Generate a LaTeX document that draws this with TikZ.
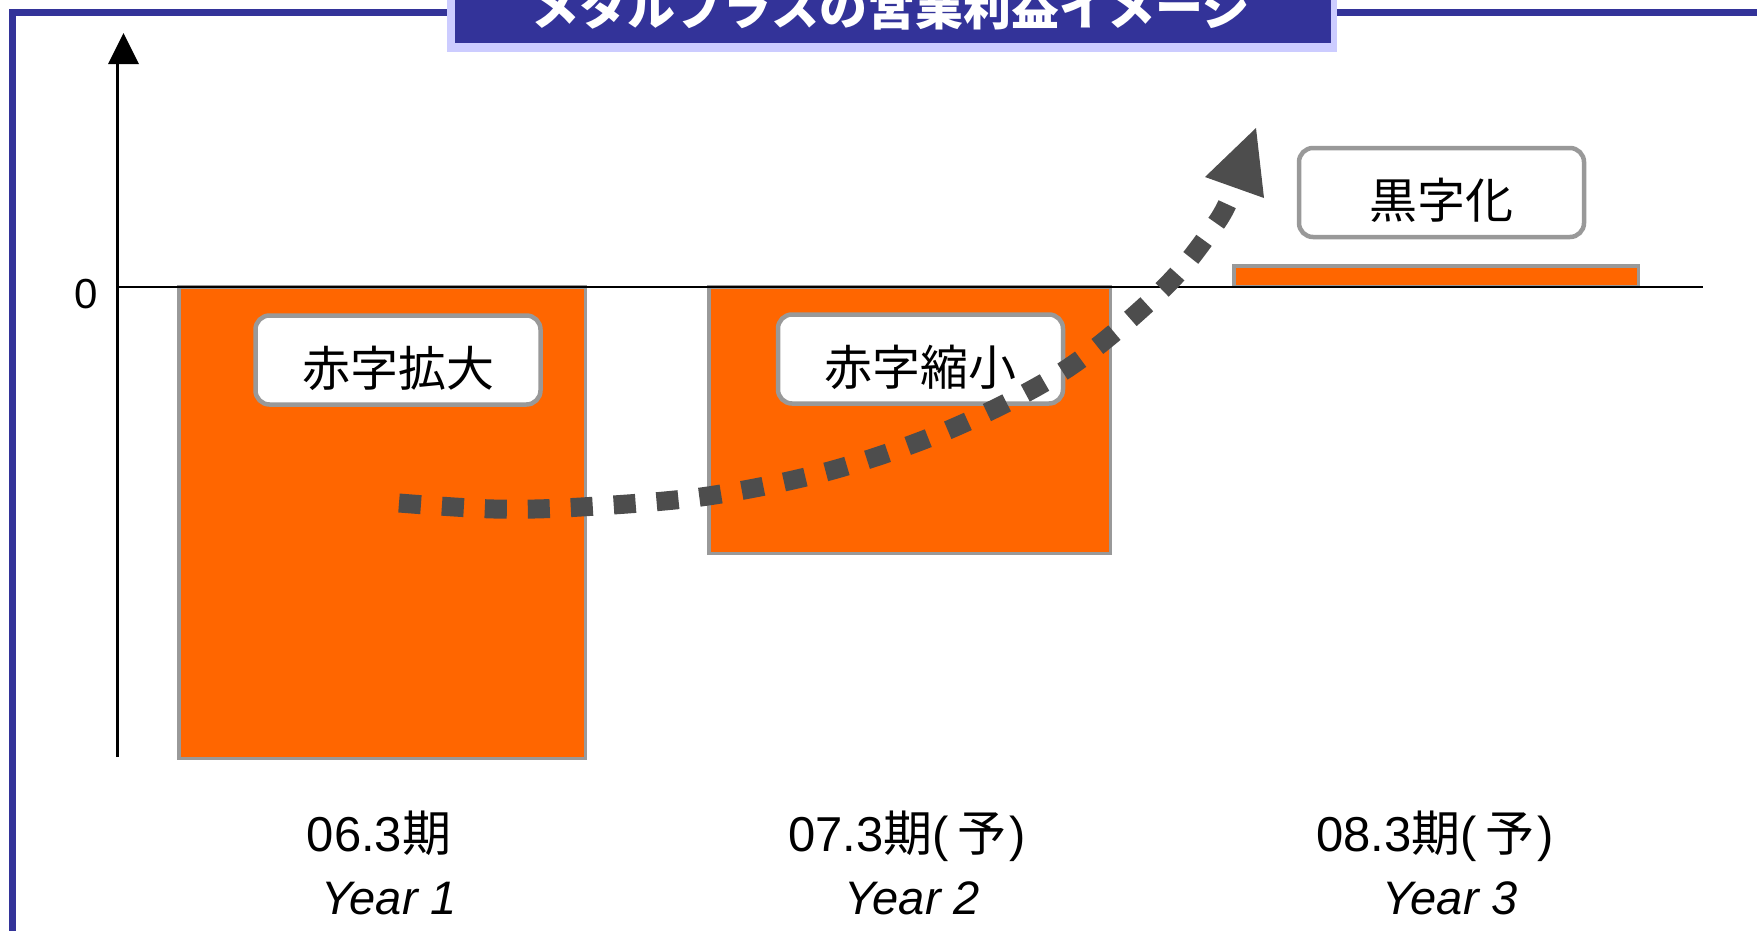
\documentclass[tikz,border=0pt]{standalone}
\usepackage{fontspec}
\setmainfont{Liberation Sans}
\newfontfamily\cjk{Noto Sans CJK JP}
\definecolor{frameblue}{HTML}{333399}
\definecolor{titlelight}{HTML}{CCCCFF}
\definecolor{barorange}{HTML}{FF6600}
\definecolor{bordergray}{HTML}{999999}
\definecolor{curvegray}{HTML}{4D4D4D}
\newcommand{\setfs}[1]{\fontsize{#1}{#1}\selectfont}
\begin{document}
\begin{tikzpicture}[x=1pt,y=-1pt,
  bar/.style={fill=barorange, draw=bordergray, line width=3.5pt},
  tagbox/.style={draw=bordergray, fill=white, line width=4.5pt, rounded corners=14pt,
    minimum width=285pt, minimum height=89pt, inner sep=0pt,
    text height=52pt, text depth=0pt, font=\cjk\setfs{48pt}},
  cat/.style={anchor=base, inner sep=0pt, font=\setfs{49pt}},
  yr/.style={anchor=base, inner sep=0pt, font=\itshape\setfs{47pt}},
  trend/.style={draw=curvegray, line width=19pt, dash pattern=on 22pt off 21pt},
  axisline/.style={draw=black, line width=2.2pt},
]
\path[use as bounding box] (0,0) rectangle (1757,930);
\clip (0,0) rectangle (1757,930);

% frame
\draw[frameblue, line width=7pt] (1800,12.5) -- (12.5,12.5) -- (12.5,1000);

% title
\fill[titlelight] (447,-10) rectangle (1337,52);
\fill[frameblue] (455,-10) rectangle (1331,43);
\node[anchor=base, text=white, inner sep=0pt, font=\cjk\bfseries\setfs{48pt}] (title) at (891,25) {メタルプラスの営業利益イメージ};

% bars
\draw[bar] (178.75,287) rectangle (585.25,758.25);
\draw[bar] (708.75,287) rectangle (1110.25,553.25);
\draw[bar] (1233.75,265.75) rectangle (1638.25,286.25);

% axes
\draw[axisline] (117.5,757) -- (117.5,62);
\fill[black] (108,64) -- (139,64) -- (123.5,33) -- cycle;
\draw[axisline, line width=2pt] (117.5,287) -- (1703,287);
\node[anchor=base, inner sep=0pt, font=\setfs{42pt}] (zero) at (86,308) {0};

% tag boxes
\node[tagbox] (b1) at (398,360) {赤字拡大};
\node[tagbox] (b2) at (920.5,359) {赤字縮小};
\node[tagbox] (b3) at (1441.5,192.5) {黒字化};

% trend curve
\draw[trend] plot[smooth, tension=0.55] coordinates {(399,503) (494,509) (581,507) (708,496) (833,470) (953,428) (1068,368) (1165,287) (1217,222) (1232,192)};
\fill[curvegray] (1256,128) -- (1205,177) -- (1264,198) -- cycle;

% category labels
\node[cat] (l1) at (379,851) {06.3{\cjk 期}};
\node[cat] (l2) at (907,851) {07.3{\cjk 期}(\hspace{9pt}{\cjk 予}\hspace{3pt})};
\node[cat] (l3) at (1435,851) {08.3{\cjk 期}(\hspace{9pt}{\cjk 予}\hspace{3pt})};
\node[yr] (y1) at (389,914) {Year 1};
\node[yr] (y2) at (912,914) {Year 2};
\node[yr] (y3) at (1450,914) {Year 3};
\end{tikzpicture}
\end{document}
